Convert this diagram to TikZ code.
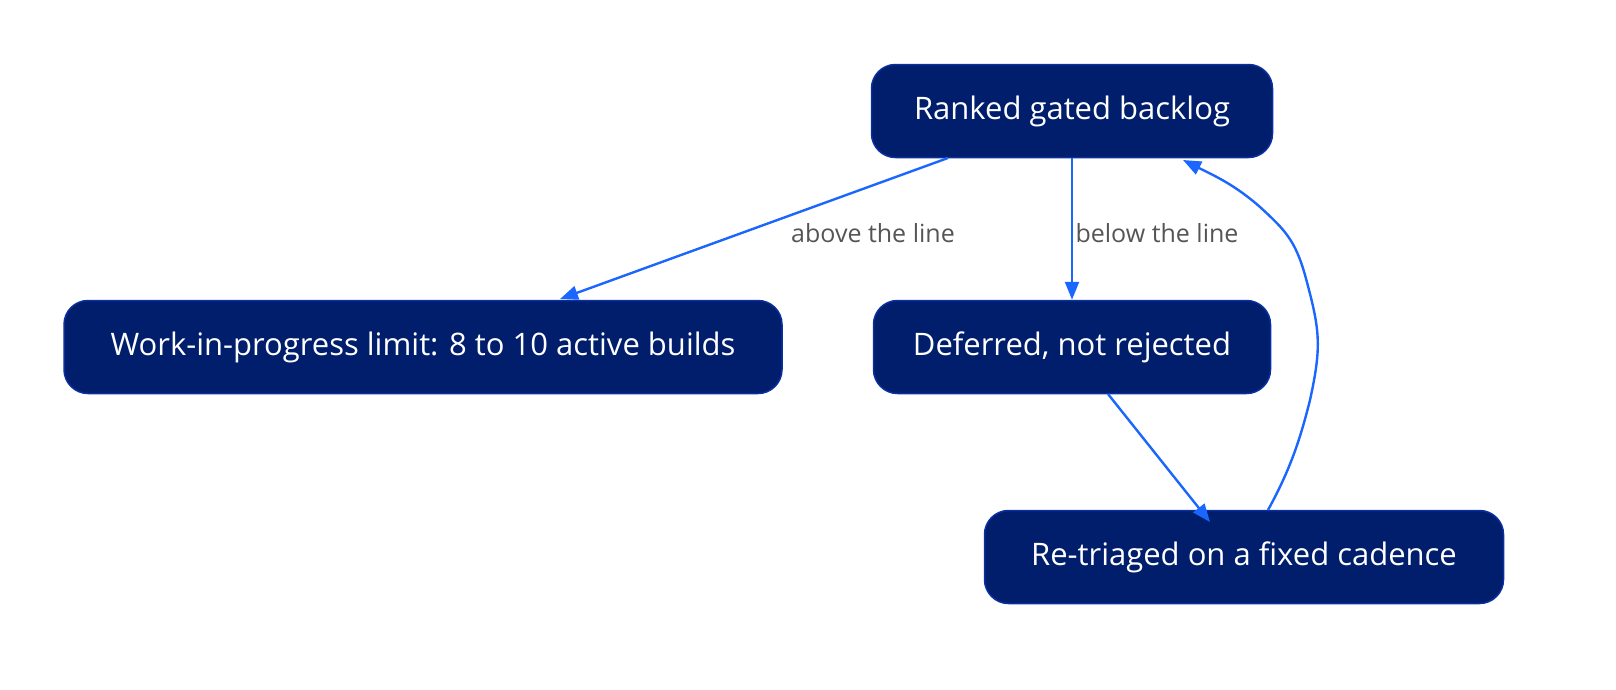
\documentclass[tikz,border=0pt]{standalone}
\usepackage{fontspec}
\setmainfont{Open Sans}
\usetikzlibrary{arrows.meta}
\definecolor{nfill}{HTML}{001E6C}
\definecolor{nline}{HTML}{0B2FA0}
\definecolor{edge}{HTML}{1A66FF}
\definecolor{lab}{HTML}{555555}
\begin{document}
\begin{tikzpicture}[x=1pt,y=-1pt,
  box/.style={draw=nline,line width=1.5pt,fill=nfill,rounded corners=24pt,text=white,
    font=\fontsize{31}{36}\selectfont,inner sep=0pt,minimum height=93pt},
  arr/.style={draw=edge,line width=2.4pt,-{Triangle[length=18pt,width=14pt]}},
  lbl/.style={text=lab,font=\fontsize{25}{30}\selectfont}]
\useasboundingbox (0,0) rectangle (1616,689);
\node[box,minimum width=401pt] (r) at (1072,111) {Ranked gated backlog};
\node[box,minimum width=718pt] (w) at (423,347) {Work-in-progress limit: 8 to 10 active builds};
\node[box,minimum width=397pt] (d) at (1072,347) {Deferred, not rejected};
\node[box,minimum width=519pt] (t) at (1244,557) {Re-triaged on a fixed cadence};
\coordinate (r1) at (948,158); \coordinate (w1) at (560,299);
\draw[arr] (r1) -- (w1);
\node[lbl] (l1) at (873,233) {above the line};
\draw[arr] (r.south) -- (d.north);
\node[lbl] (l2) at (1157,233) {below the line};
\coordinate (d1) at (1108,394); \coordinate (t1) at (1210,522);
\draw[arr] (d1) -- (t1);
\coordinate (t2) at (1268,510); \coordinate (r2) at (1183,160);
\draw[arr] (t2) .. controls (1290,470) and (1300,440) .. (1310,400)
  .. controls (1322,345) and (1320,330) .. (1305,275)
  .. controls (1295,240) and (1285,230) .. (1260,207)
  .. controls (1235,185) and (1215,176) .. (r2);
\end{tikzpicture}
\end{document}
